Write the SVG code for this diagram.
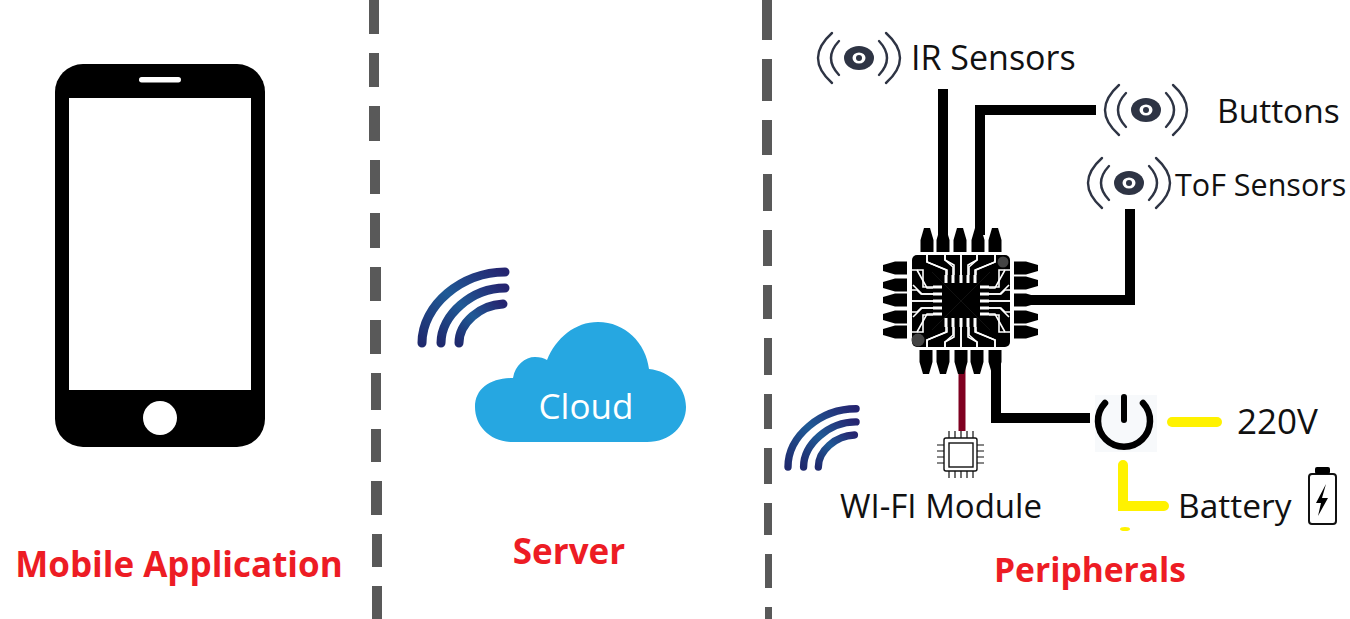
<svg xmlns="http://www.w3.org/2000/svg" width="1350" height="619" viewBox="0 0 1350 619">
<defs>
<linearGradient id="wg" x1="0" y1="1" x2="1" y2="0"><stop offset="0" stop-color="#1f2a6e"/><stop offset=".5" stop-color="#1f5a96"/><stop offset="1" stop-color="#252570"/></linearGradient>
<g id="eye" fill="none" stroke="#2e3444" stroke-linecap="round">
<ellipse rx="15" ry="12" fill="#2e3444" stroke="none"/>
<ellipse rx="6.5" ry="5.5" fill="#fff" stroke="none"/><circle r="3" fill="#2e3444" stroke="none"/>
<path d="M-20-17Q-36 0-20 17M20-17Q36 0 20 17" stroke-width="2.4"/>
<path d="M-27-25Q-55 0-27 25M27-25Q55 0 27 25" stroke-width="2.4"/>
</g>
<g id="wifi" fill="none" stroke="url(#wg)" stroke-width="9" stroke-linecap="round">
<path d="M0 0C0-38 40-71 83-71"/>
<path d="M19 0C19-28 50-55 83-55"/>
<path d="M37 0C37-20 58-38 81-39"/>
</g>
<path id="pin" d="M-3 0H3L6.5 12V24H-6.5V12Z"/>
<g id="traces">
<path d="M946 275V270L927 262V255M953 275V267L945 260V255M961 275V255M968 275V265L977 260V255M975 275V270L995 262V255"/>
<path d="M933 287H923V270H912M933 294H921L917 290H912M933 301H912M933 308H922L913 317M933 314H927L917 332"/>
</g>
</defs>
<style>
.lbl{font-family:"Open Sans","Noto Sans","Liberation Sans",sans-serif;fill:#111}
.hd{font-family:"Open Sans","Noto Sans","Liberation Sans",sans-serif;font-weight:700;font-size:35px;fill:#ed1c24}
.k{fill:none;stroke:#000;stroke-width:10;stroke-linejoin:miter}
.y{fill:none;stroke:#fff200;stroke-width:10;stroke-linecap:round}
.tr{fill:none;stroke:#fff;stroke-width:1.6}
</style>
<g id="dividers" fill="#595959">
<path d="M369 0H379V34H369ZM369 53H379V87H369ZM369 106H380V141H369ZM370 160H380V194H370ZM370 213H380V248H370ZM370 267H381V301H370ZM370 320H381V354H370ZM371 373H381V410H371ZM371 429H381V462H371ZM371 481H382V515H371ZM372 534H382V567H372ZM372 586H382V619H372Z"/>
<path d="M762 0H772V40H762ZM762 59H772V101H762ZM762 120H772V155H762ZM763 174H772V211H763ZM763 230H772V266H763ZM763 285H772V319H763ZM764 338H772V375H764ZM764 394H772V429H764ZM764 448H772V484H764ZM764 503H772V535H764ZM765 554H772V588H765ZM765 607H772V619H765Z"/>
</g>
<g id="phone">
<rect x="55" y="64" width="210" height="383" rx="28"/>
<rect x="69" y="98" width="182" height="292" fill="#fff"/>
<rect x="139" y="77" width="42" height="5.5" rx="2.7" fill="#fff"/>
<circle cx="160" cy="418" r="17" fill="#fff"/>
<text class="hd" x="179" y="577" text-anchor="middle">Mobile Application</text>
</g>
<g id="server">
<use href="#wifi" x="422" y="343"/>
<path d="M513 442C490 442 475 426 475 407C475 388 491 378 513 378C515 365 525 357 535 357C540 357 544 358 547 360C556 338 575 322 598 322C625 322 646 343 649 369C670 371 686 387 686 407C686 426 670 442 647 442Z" fill="#26a7e1"/>
<text x="586" y="419" text-anchor="middle" style="font-family:'Open Sans','Noto Sans',sans-serif;font-size:35px;fill:#fff">Cloud</text>
<text class="hd" x="569" y="564" text-anchor="middle">Server</text>
</g>
<g id="connectors">
<path class="k" d="M943 89V235"/>
<path class="k" d="M1096 110H980V235"/>
<path class="k" d="M1130 209V300H1020"/>
<path class="k" d="M996 362V418H1090"/>
<path d="M962 360V431" fill="none" stroke="#7f0020" stroke-width="7"/>
<path class="y" d="M1172 422H1217"/>
<path class="y" d="M1123 465V506H1164"/>
<ellipse cx="1125" cy="529" rx="5" ry="2" fill="#fff200"/>
</g>
<g id="mcu">
<rect x="912" y="255" width="98" height="92" rx="5"/>
<use href="#pin" transform="translate(927 228)"/><use href="#pin" transform="translate(943 228)"/><use href="#pin" transform="translate(960 228)"/><use href="#pin" transform="translate(978 228)"/><use href="#pin" transform="translate(995 228)"/>
<use href="#pin" transform="translate(926 374) rotate(180)"/><use href="#pin" transform="translate(943 374) rotate(180)"/><use href="#pin" transform="translate(961 374) rotate(180)"/><use href="#pin" transform="translate(977 374) rotate(180)"/><use href="#pin" transform="translate(995 374) rotate(180)"/>
<use href="#pin" transform="translate(883 268) rotate(-90)"/><use href="#pin" transform="translate(883 285) rotate(-90)"/><use href="#pin" transform="translate(883 300) rotate(-90)"/><use href="#pin" transform="translate(883 317) rotate(-90)"/><use href="#pin" transform="translate(883 332) rotate(-90)"/>
<use href="#pin" transform="translate(1038 268) rotate(90)"/><use href="#pin" transform="translate(1038 283) rotate(90)"/><use href="#pin" transform="translate(1038 300) rotate(90)"/><use href="#pin" transform="translate(1038 317) rotate(90)"/><use href="#pin" transform="translate(1038 332) rotate(90)"/>
<circle cx="918" cy="340" r="6.5" fill="#444"/>
<circle cx="1003" cy="262" r="5.5" fill="#444"/>
<use href="#traces" class="tr"/>
<use href="#traces" class="tr" transform="matrix(-1 0 0 1 1922 0)"/>
<use href="#traces" class="tr" transform="matrix(1 0 0 -1 0 602)"/>
<use href="#traces" class="tr" transform="matrix(-1 0 0 -1 1922 602)"/>
<rect x="942" y="283" width="38" height="35"/>
<path d="M932 272L990 330M990 272L932 330" stroke="#222" stroke-width=".5" fill="none"/>
<g fill="#fff">
<rect x="944.500" y="275" width="3" height="8"/><rect x="951.500" y="275" width="3" height="8"/><rect x="959.500" y="275" width="3" height="8"/><rect x="966.500" y="275" width="3" height="8"/><rect x="973.500" y="275" width="3" height="8"/>
<rect x="944.500" y="318" width="3" height="9"/><rect x="951.500" y="318" width="3" height="9"/><rect x="959.500" y="318" width="3" height="9"/><rect x="966.500" y="318" width="3" height="9"/><rect x="973.500" y="318" width="3" height="9"/>
<rect x="933" y="285.500" width="9" height="3"/><rect x="933" y="292.500" width="9" height="3"/><rect x="933" y="299.500" width="9" height="3"/><rect x="933" y="306.500" width="9" height="3"/><rect x="933" y="312.500" width="9" height="3"/>
<rect x="980" y="285.500" width="9" height="3"/><rect x="980" y="292.500" width="9" height="3"/><rect x="980" y="299.500" width="9" height="3"/><rect x="980" y="306.500" width="9" height="3"/><rect x="980" y="312.500" width="9" height="3"/>
</g>
</g>
<g id="ir-sensors"><use href="#eye" x="859" y="58"/><text class="lbl" x="911" y="70" font-size="34">IR Sensors</text></g>
<g id="buttons"><use href="#eye" x="1146" y="110"/><text class="lbl" x="1217" y="123" font-size="33.500">Buttons</text></g>
<g id="tof-sensors"><use href="#eye" x="1129" y="183"/><text class="lbl" x="1175" y="196" font-size="30.500">ToF Sensors</text></g>
<g id="wifi-module">
<use href="#wifi" transform="translate(788 467) scale(.82)"/>
<g fill="none" stroke="#111" stroke-width="1.2">
<rect x="944" y="438" width="33" height="33" rx="2" stroke-width="1.4"/>
<rect x="949" y="443" width="24" height="24" stroke-width="1.4"/>
<path d="M949 431v7M955 431v7M961 431v7M967 431v7M973 431v7M949 471v7M955 471v7M961 471v7M967 471v7M973 471v7M937 445h7M937 451h7M937 457h7M937 463h7M977 445h7M977 451h7M977 457h7M977 463h7"/>
</g>
<text class="lbl" x="840" y="518" font-size="33">WI-FI Module</text>
</g>
<g id="power">
<rect x="1095" y="395" width="62" height="57" fill="#f7f9fb"/>
<path d="M1105 403A26 26 0 1 0 1143 403" fill="none" stroke="#000" stroke-width="6.500" stroke-linecap="round"/>
<path d="M1124 397V420" fill="none" stroke="#000" stroke-width="6" stroke-linecap="round"/>
<text class="lbl" x="1237" y="434" font-size="35">220V</text>
</g>
<g id="battery">
<text class="lbl" x="1178" y="518" font-size="33.500">Battery</text>
<rect x="1309" y="474" width="27" height="50" rx="3" fill="#fff" stroke="#111" stroke-width="2"/>
<rect x="1315" y="467" width="15" height="7" rx="2"/>
<path d="M1326 484L1316 503H1321L1318 516L1328 498H1322Z"/>
</g>
<g id="peripherals-title"><text class="hd" x="1090" y="582" text-anchor="middle" style="font-size:33.600px">Peripherals</text></g>
</svg>
